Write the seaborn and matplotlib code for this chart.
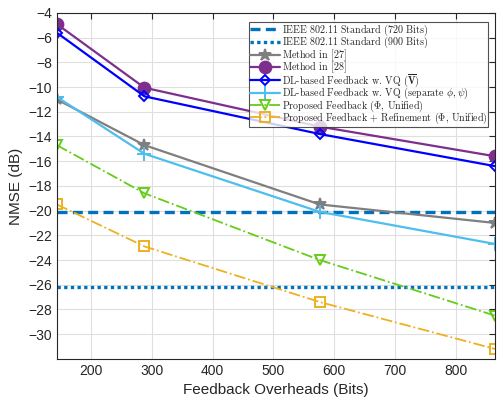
import matplotlib
matplotlib.use("Agg")
import matplotlib.pyplot as plt
import numpy as np
import pandas as pd
import seaborn as sns

# feedback overheads (bits)
overheads = [144, 288, 576, 864]

# NMSE (dB) per method
method27 = [-11.0, -14.7, -19.5, -21.0]
method28 = [-4.9, -10.05, -13.2, -15.6]
dl_vq = [-5.6, -10.75, -13.8, -16.4]
dl_vq_sep = [-10.8, -15.4, -20.1, -22.7]
proposed = [-14.7, -18.6, -24.0, -28.5]
proposed_ref = [-19.5, -22.9, -27.4, -31.2]

ieee_720 = -20.15
ieee_900 = -26.2

# every label goes through mathtext so the legend rows come out the same height
labels = [
    r"Method in [27]$\,$",
    r"Method in [28]$\,$",
    r"DL-based Feedback w. VQ ($\overline{\mathbf{V}}$)",
    r"DL-based Feedback w. VQ (separate $\phi, \psi$)",
    r"Proposed Feedback ($\mathbf{\Phi}$, Unified)",
    r"Proposed Feedback + Refinement ($\mathbf{\Phi}$, Unified)",
]
series = [method27, method28, dl_vq, dl_vq_sep, proposed, proposed_ref]

sns.set_style("whitegrid")
plt.rcParams["font.family"] = ["Liberation Sans", "DejaVu Sans"]
plt.rcParams["mathtext.fontset"] = "cm"

df = pd.DataFrame({
    "bits": overheads * len(series),
    "nmse": sum(series, []),
    "method": np.repeat(labels, len(overheads)),
})

styles = {
    labels[0]: dict(color="#7F7F7F", marker="*", ms=9, mfc="#7F7F7F", ls="-", lw=1.6),
    labels[1]: dict(color="#7E2F8E", marker="o", ms=8.5, mfc="#7E2F8E", ls="-", lw=1.6),
    labels[2]: dict(color="#0000FF", marker="D", ms=5.5, mfc="none", ls="-", lw=1.6),
    labels[3]: dict(color="#4DBEEE", marker="+", ms=10, mfc="none", ls="-", lw=1.6),
    labels[4]: dict(color="#66CC1A", marker="v", ms=7.5, mfc="none", ls="-.", lw=1.3),
    labels[5]: dict(color="#EDB120", marker="s", ms=7, mfc="none", ls="-.", lw=1.3),
}

fig, ax = plt.subplots(figsize=(5.03, 4.05), dpi=100)
fig.subplots_adjust(left=0.113, right=0.984, bottom=0.114, top=0.968)

ax.axhline(ieee_720, color="#0072BD", lw=2.4, ls=(0, (3, 1.6)),
           label=r"IEEE 802.11 Standard (720 Bits)$\,$")
ax.axhline(ieee_900, color="#0072BD", lw=2.4, ls=(0, (1, 1)),
           label=r"IEEE 802.11 Standard (900 Bits)$\,$")

for name in labels:
    st = styles[name]
    sub = df[df["method"] == name]
    sns.lineplot(data=sub, x="bits", y="nmse", ax=ax, label=name,
                 color=st["color"], linestyle=st["ls"], linewidth=st["lw"],
                 marker=st["marker"], markersize=st["ms"],
                 markerfacecolor=st["mfc"], markeredgecolor=st["color"],
                 markeredgewidth=1.4)

ax.set_xlim(144, 864)
ax.set_ylim(-32, -4)
ax.set_xticks([200, 300, 400, 500, 600, 700, 800])
ax.set_yticks(np.arange(-30, -3, 2))
ax.tick_params(direction="in", length=4, labelsize=10, colors="#262626",
               top=True, right=True, labelcolor="#262626")
ax.set_xlabel("Feedback Overheads (Bits)", fontsize=11, color="#262626")
ax.set_ylabel("NMSE (dB)", fontsize=11, color="#262626")
ax.grid(True, color="#DFDFDF", lw=0.8)
for sp in ax.spines.values():
    sp.set_color("#262626")
    sp.set_linewidth(0.8)

leg = ax.legend(loc="upper right", prop=dict(family="cmr10", size=7.2),
                frameon=True, fancybox=False, edgecolor="#262626",
                bbox_to_anchor=(0.985, 0.975), borderaxespad=0,
                handlelength=3.0, handletextpad=0.2,
                labelspacing=-0.3, borderpad=0.1)
leg.get_frame().set_linewidth(0.8)

fig.savefig("out.png", dpi=100)
